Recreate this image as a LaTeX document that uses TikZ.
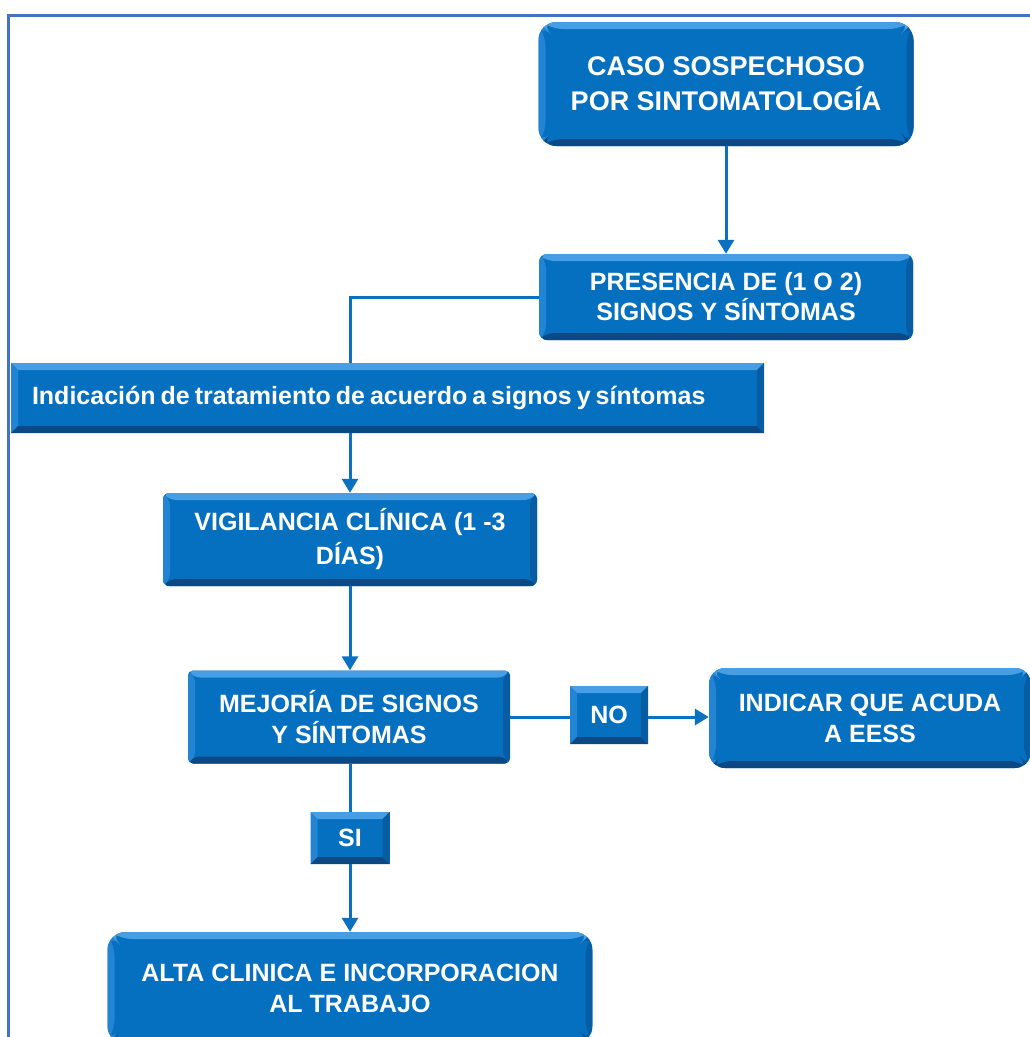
\documentclass[tikz,border=0pt]{standalone}
\usepackage{fontspec}
\setmainfont{Liberation Sans}
\usetikzlibrary{arrows.meta}
\definecolor{boxblue}{RGB}{6,112,192}
\definecolor{bvlight}{RGB}{72,158,228}
\definecolor{bvmid}{RGB}{36,132,212}
\definecolor{bvdark}{RGB}{12,72,132}
\definecolor{bvdarkb}{RGB}{8,92,162}
\definecolor{framec}{RGB}{68,114,196}
\definecolor{linec}{RGB}{12,112,192}
\tikzset{
  bevel/.style={path picture={
    \coordinate (pnw) at (path picture bounding box.north west);
    \coordinate (pse) at (path picture bounding box.south east);
    \coordinate (pne) at (pse |- pnw);
    \coordinate (psw) at (pnw |- pse);
    \fill[bvlight] (pnw) -- (pne) -- ([shift={(-7,7)}]pne) -- ([shift={(7,7)}]pnw) -- cycle;
    \fill[bvmid] (pnw) -- ([shift={(7,7)}]pnw) -- ([shift={(7,-7)}]psw) -- (psw) -- cycle;
    \fill[bvdark] (psw) -- (pse) -- ([shift={(-7,-7)}]pse) -- ([shift={(7,-7)}]psw) -- cycle;
    \fill[bvdarkb] (pne) -- (pse) -- ([shift={(-7,-7)}]pse) -- ([shift={(-7,7)}]pne) -- cycle;
  }},
  box/.style={fill=boxblue, text=white, align=center, inner sep=0pt,
    font=\bfseries\fontsize{25}{31}\selectfont, bevel},
  conn/.style={draw=linec, line width=3pt},
  arr/.style={conn, -{Triangle[width=16pt,length=14pt]}},
}
\begin{document}
\begin{tikzpicture}[x=1pt,y=-1pt]
\useasboundingbox (0,0) rectangle (1029,1037);
\fill[white] (0,0) rectangle (1029,1037);
\draw[framec, line width=3pt] (8,1040) -- (8,15) -- (1032,15);

\node[box, rounded corners=18pt, minimum width=375pt, minimum height=124pt,
  font=\bfseries\fontsize{27}{35}\selectfont] (b1) at (726,84)
  {CASO SOSPECHOSO\\POR SINTOMATOLOGÍA};
\node[box, rounded corners=8pt, minimum width=374pt, minimum height=86pt,
  font=\bfseries\fontsize{25}{30}\selectfont] (b2) at (726,297)
  {PRESENCIA DE (1 O 2)\\SIGNOS Y SÍNTOMAS};
\node[box, minimum height=70pt, inner xsep=21pt, text width=711pt, align=left,
  font=\bfseries\fontsize{25}{30}\selectfont] (b3) at (387.5,398)
  {\spaceskip=0.2em Indicación de tratamiento de acuerdo a signos y síntomas};
\node[box, rounded corners=6pt, minimum width=374pt, minimum height=93pt,
  font=\bfseries\fontsize{25}{34}\selectfont] (b4) at (350,539.5)
  {VIGILANCIA CLÍNICA (1 -3\\DÍAS)};
\node[box, rounded corners=5pt, minimum width=322pt, minimum height=93pt] (b5) at (349,717)
  {MEJORÍA DE SIGNOS\\Y SÍNTOMAS};
\node[box, minimum width=78pt, minimum height=58pt] (no) at (609,715) {NO};
\node[box, rounded corners=16pt, minimum width=322pt, minimum height=100pt] (b6) at (870,718)
  {INDICAR QUE ACUDA\\A EESS};
\node[box, minimum width=79pt, minimum height=52pt] (si) at (350,838) {SI};
\node[box, rounded corners=18pt, minimum width=485pt, minimum height=112pt] (b7) at (350,988)
  {ALTA CLINICA E INCORPORACION\\AL TRABAJO};

\draw[arr] (b1.south -| b2.north) -- (b2.north);
\draw[conn] (b2.west) -| (b4.north |- b3.north);
\draw[arr] (b4.north |- b3.south) -- (b4.north);
\draw[arr] (b4.south) -- (b4.south |- b5.north);
\draw[conn] (b5.east) -- (b5.east -| no.west);
\draw[arr] (no.east |- b5.east) -- (b5.east -| b6.west);
\draw[conn] (b5.south -| si.north) -- (si.north);
\draw[arr] (si.south) -- (b7.north);
\end{tikzpicture}
\end{document}
